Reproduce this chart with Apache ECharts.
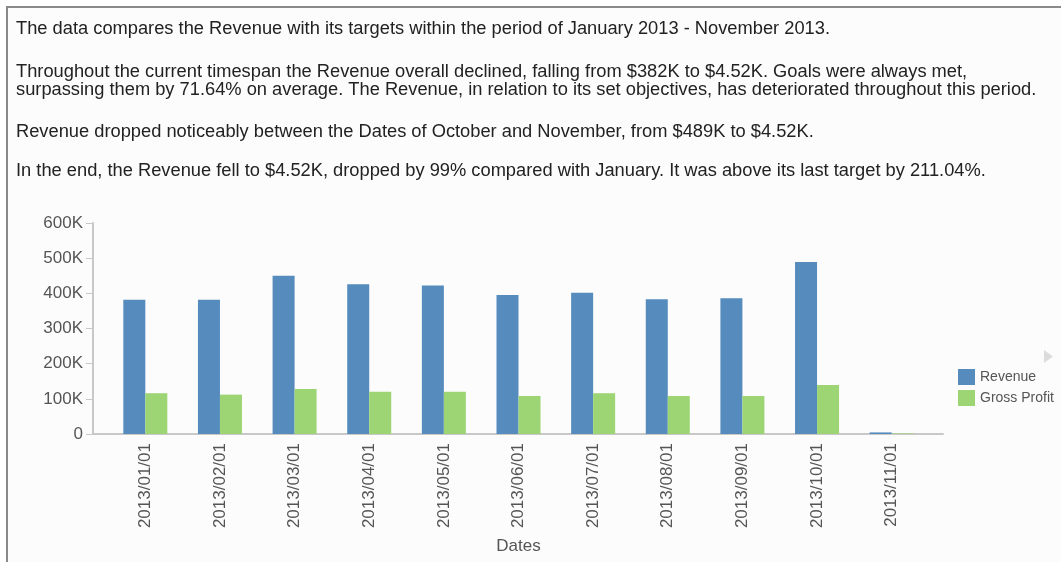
<!DOCTYPE html>
<html>
<head>
<meta charset="utf-8">
<script src="https://cdn.jsdelivr.net/npm/echarts@6/dist/echarts.min.js"></script>
<style>
  html, body { margin: 0; padding: 0; background: #ffffff; width: 1061px; height: 562px; overflow: hidden; }
  #frame { position: absolute; left: 6px; top: 6px; width: 1070px; height: 570px; border: 2px solid #8a8a8a; background: #fbfcfb; }
  #chart { position: absolute; left: 0; top: 0; width: 1061px; height: 562px; }
</style>
</head>
<body>
<div id="frame"></div>
<div id="chart"></div>
<script>
// Monthly figures for 2013
const dates = ['2013/01/01', '2013/02/01', '2013/03/01', '2013/04/01', '2013/05/01', '2013/06/01',
               '2013/07/01', '2013/08/01', '2013/09/01', '2013/10/01', '2013/11/01'];
const revenue = [382000, 382000, 450000, 426000, 422000, 395000, 402000, 383000, 386000, 489000, 4520];
const grossProfit = [116000, 112000, 128000, 120000, 120000, 108000, 116000, 108000, 108000, 139000, 1450];
const yTicks = [0, 100000, 200000, 300000, 400000, 500000, 600000];

// Narrative lines shown above the chart
const summaryLines = [
  'The data compares the Revenue with its targets within the period of January 2013 - November 2013.',
  'Throughout the current timespan the Revenue overall declined, falling from $382K to $4.52K. Goals were always met,',
  'surpassing them by 71.64% on average. The Revenue, in relation to its set objectives, has deteriorated throughout this period.',
  'Revenue dropped noticeably between the Dates of October and November, from $489K to $4.52K.',
  'In the end, the Revenue fell to $4.52K, dropped by 99% compared with January. It was above its last target by 211.04%.'
];
const summaryTops = [20, 63, 81, 123, 162];

const FONT = '"Liberation Sans", Arial, sans-serif';
const yMin = yTicks[0], yMax = yTicks[yTicks.length - 1], yStep = yTicks[1] - yTicks[0];

const chart = echarts.init(document.getElementById('chart'), null, { renderer: 'canvas' });

chart.setOption({
  backgroundColor: 'transparent',
  animation: false,
  title: summaryLines.map((t, i) => ({
    text: t,
    left: 16,
    top: summaryTops[i],
    padding: 0,
    textStyle: { fontFamily: FONT, fontSize: 18.3, fontWeight: 'normal', color: '#222222', lineHeight: 18 }
  })),
  legend: {
    orient: 'vertical',
    left: 958,
    top: 369,
    itemWidth: 17,
    itemHeight: 16,
    itemGap: 5,
    padding: 0,
    icon: 'rect',
    itemStyle: { borderWidth: 0 },
    textStyle: { fontFamily: FONT, fontSize: 14, color: '#555555', padding: [3, 0, 0, 0] },
    data: ['Revenue', 'Gross Profit']
  },
  grid: [
    // outer grid: carries the value axis and the full-width baseline
    { left: 93, right: 118, top: 223, bottom: 128, containLabel: false },
    // inner grid: category band where the bars sit
    { left: 108, right: 132, top: 223, bottom: 128, containLabel: false }
  ],
  xAxis: [
    {
      gridIndex: 0, type: 'value', min: 0, max: 1,
      axisLine: { show: true, lineStyle: { color: '#c8c8c8', width: 2 } },
      axisTick: { show: false }, axisLabel: { show: false }, splitLine: { show: false }
    },
    {
      gridIndex: 1, type: 'category', data: dates,
      axisLine: { show: false }, axisTick: { show: false },
      axisLabel: { rotate: 90, margin: 9, fontFamily: FONT, fontSize: 17, color: '#555555' },
      name: 'Dates', nameLocation: 'middle', nameGap: 104,
      nameTextStyle: { fontFamily: FONT, fontSize: 17, color: '#555555' }
    }
  ],
  yAxis: [
    {
      gridIndex: 0, type: 'value', min: yMin, max: yMax, interval: yStep,
      axisLine: { show: true, lineStyle: { color: '#c8c8c8', width: 2 } },
      axisTick: { show: true, length: 7, lineStyle: { color: '#c8c8c8', width: 1 } },
      axisLabel: {
        margin: 10, fontFamily: FONT, fontSize: 17, color: '#555555',
        formatter: v => v === 0 ? '0' : (v / 1000) + 'K'
      },
      splitLine: { show: false }
    },
    {
      gridIndex: 1, type: 'value', min: yMin, max: yMax, interval: yStep, show: false
    }
  ],
  series: [
    {
      name: 'Revenue', type: 'bar', xAxisIndex: 1, yAxisIndex: 1,
      data: revenue, barWidth: 22, barGap: '0%',
      itemStyle: { color: '#558bbd' }
    },
    {
      name: 'Gross Profit', type: 'bar', xAxisIndex: 1, yAxisIndex: 1,
      data: grossProfit, barWidth: 22, barGap: '0%',
      itemStyle: { color: '#9dd574' }
    }
  ],
  graphic: [
    // legend pager arrow
    {
      type: 'polygon',
      shape: { points: [[1044, 350], [1053, 356.5], [1044, 363]] },
      style: { fill: '#dcdcdc' },
      silent: true
    }
  ]
});
</script>
</body>
</html>
